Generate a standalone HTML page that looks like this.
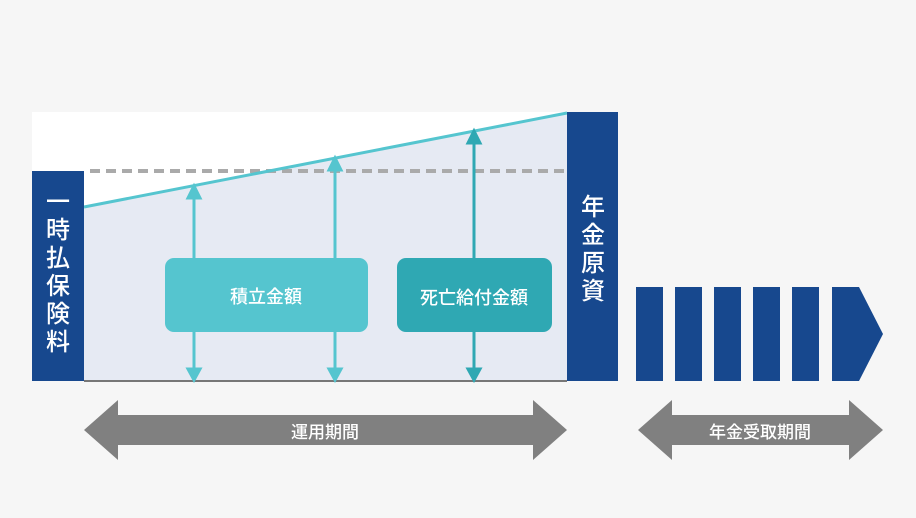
<!DOCTYPE html>
<html><head><meta charset="utf-8"><style>
body{margin:0;background:#f6f6f6;}
svg{display:block;font-family:"Liberation Sans","Noto Sans CJK JP",sans-serif;}
text{font-weight:500;}
</style></head><body>
<svg width="916" height="518" viewBox="0 0 916 518">
<rect x="0" y="0" width="916" height="518" fill="#f6f6f6"/>
<rect x="32" y="112" width="536" height="269" fill="#ffffff"/>
<polygon points="84,207 567,113 567,381 84,381" fill="#e6eaf3"/>
<line x1="90" y1="171" x2="567" y2="171" stroke="#aaaaaa" stroke-width="4" stroke-dasharray="10,6"/>
<line x1="84" y1="207" x2="567" y2="113" stroke="#55c5cf" stroke-width="3"/>
<line x1="84" y1="381" x2="567" y2="381" stroke="#777" stroke-width="2"/>
<g stroke="#55c5cf" stroke-width="3" fill="#55c5cf">
<line x1="194" y1="195" x2="194" y2="372"/><polygon points="188,198 200,198 194,186"/><polygon points="188,369 200,369 194,380"/>
<line x1="335" y1="167" x2="335" y2="372"/><polygon points="329,170 341,170 335,158"/><polygon points="329,369 341,369 335,380"/>
</g>
<g stroke="#2fa8b3" stroke-width="3" fill="#2fa8b3">
<line x1="474" y1="140" x2="474" y2="372"/><polygon points="468,143 480,143 474,131"/><polygon points="468,369 480,369 474,380"/>
</g>
<rect x="165" y="258" width="203" height="74" rx="9" fill="#55c5cf"/>
<text x="266" y="303" font-size="18" fill="#fff" text-anchor="middle">積立金額</text>
<rect x="397" y="258" width="155" height="74" rx="9" fill="#2fa8b3"/>
<text x="474" y="304" font-size="18" fill="#fff" text-anchor="middle">死亡給付金額</text>
<rect x="32" y="171" width="52" height="210" fill="#17488e"/>
<g font-size="24" fill="#fff" text-anchor="middle">
<text x="58" y="210">一</text><text x="58" y="238">時</text><text x="58" y="266">払</text><text x="58" y="294">保</text><text x="58" y="322">険</text><text x="58" y="350">料</text>
</g>
<rect x="567" y="112" width="51" height="269" fill="#17488e"/>
<g font-size="24" fill="#fff" text-anchor="middle">
<text x="593" y="215">年</text><text x="593" y="243">金</text><text x="593" y="271">原</text><text x="593" y="299">資</text>
</g>
<g fill="#17488e">
<rect x="636" y="287" width="27" height="94"/><rect x="675" y="287" width="27" height="94"/><rect x="714" y="287" width="27" height="94"/><rect x="753" y="287" width="27" height="94"/><rect x="792" y="287" width="27" height="94"/>
<polygon points="832,287 859,287 883,334 859,381 832,381"/>
</g>
<polygon points="84,430 118,400 118,415 533,415 533,400 567,430 533,460 533,445 118,445 118,460" fill="#808080"/>
<text x="325" y="438" font-size="17" fill="#fff" text-anchor="middle">運用期間</text>
<polygon points="638,430 672,400 672,415 849,415 849,400 883,430 849,460 849,445 672,445 672,460" fill="#808080"/>
<text x="760" y="438" font-size="17" fill="#fff" text-anchor="middle">年金受取期間</text>
</svg>
</body></html>
